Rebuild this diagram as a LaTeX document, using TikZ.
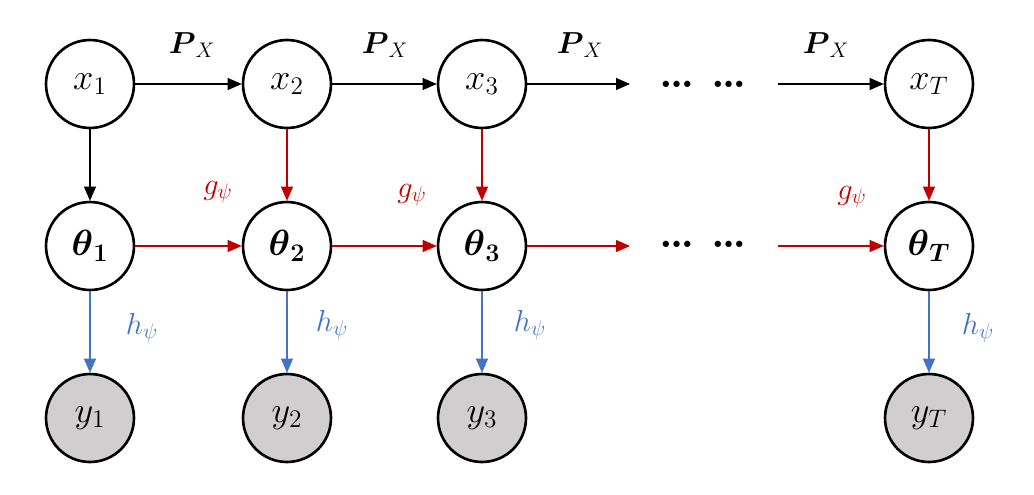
\documentclass[tikz,border=0pt]{standalone}
\usepackage{mathtools, amsthm, amssymb, amsmath}
\usepackage{tikz}
\usetikzlibrary{positioning, arrows.meta}

\definecolor{gred}{RGB}{192,0,0}
\definecolor{hblue}{RGB}{68,114,196}
\definecolor{obsgray}{RGB}{208,206,206}

\begin{document}
\begin{tikzpicture}[x=0.02cm, y=-0.02cm,
    var/.style={circle, draw, line width=1.5pt, minimum size=1.76cm, inner sep=0pt, font=\huge},
    obs/.style={var, fill=obsgray},
    link/.style={-{Triangle[length=0.28cm, width=0.24cm]}, line width=0.6pt},
    lab/.style={font=\LARGE}]
    \useasboundingbox (0,0) rectangle (1034,494);

    % Draw the three rows of variables
    \foreach \i/\x in {1/90, 2/287, 3/482} {
      \node[var] (x\i) at (\x,84) {$x_\i$};
      \node[var] (t\i) at (\x,246) {$\boldsymbol{\theta}_{\boldsymbol{\i}}$};
      \node[obs] (y\i) at (\x,418) {$y_\i$};
    }
    \node[var] (xT) at (929,84) {$x_T$};
    \node[var] (tT) at (929,246) {$\boldsymbol{\theta}_{\boldsymbol{T}}$};
    \node[obs] (yT) at (929,418) {$y_T$};

    % Dots for the skipped steps
    \node[font=\Huge\bfseries] (xdots) at (703,84) {\dots\ \dots};
    \node[font=\Huge\bfseries] (tdots) at (703,244) {\dots\ \dots};
    \coordinate (xend) at (630,84);
    \coordinate (xstart) at (778,84);
    \coordinate (tend) at (630,246);
    \coordinate (tstart) at (778,246);

    % Transitions of x
    \foreach \a/\b in {1/2, 2/3} {
      \draw[link] (x\a) -- (x\b);
    }
    \draw[link] (x3) -- (xend);
    \draw[link] (xstart) -- (xT);
    \foreach \n/\x in {1/192, 2/385, 3/580, 4/826} {
      \node[lab] (px\n) at (\x,45) {$\boldsymbol{P}_X$};
    }

    % Transitions of theta
    \foreach \a/\b in {1/2, 2/3} {
      \draw[link, gred] (t\a) -- (t\b);
    }
    \draw[link, gred] (t3) -- (tend);
    \draw[link, gred] (tstart) -- (tT);

    % From x to theta
    \draw[link] (x1) -- (t1);
    \foreach \i in {2, 3, T} {
      \draw[link, gred] (x\i) -- (t\i);
    }
    \foreach \n/\x/\y in {2/218/192, 3/412/195, T/852/197} {
      \node[lab, gred] (g\n) at (\x,\y) {$g_\psi$};
    }

    % From theta to y
    \foreach \i in {1, 2, 3, T} {
      \draw[link, hblue] (t\i) -- (y\i);
    }
    \foreach \n/\x/\y in {1/142/328, 2/332/325, 3/530/325, T/978/328} {
      \node[lab, hblue] (h\n) at (\x,\y) {$h_\psi$};
    }
\end{tikzpicture}
\end{document}
